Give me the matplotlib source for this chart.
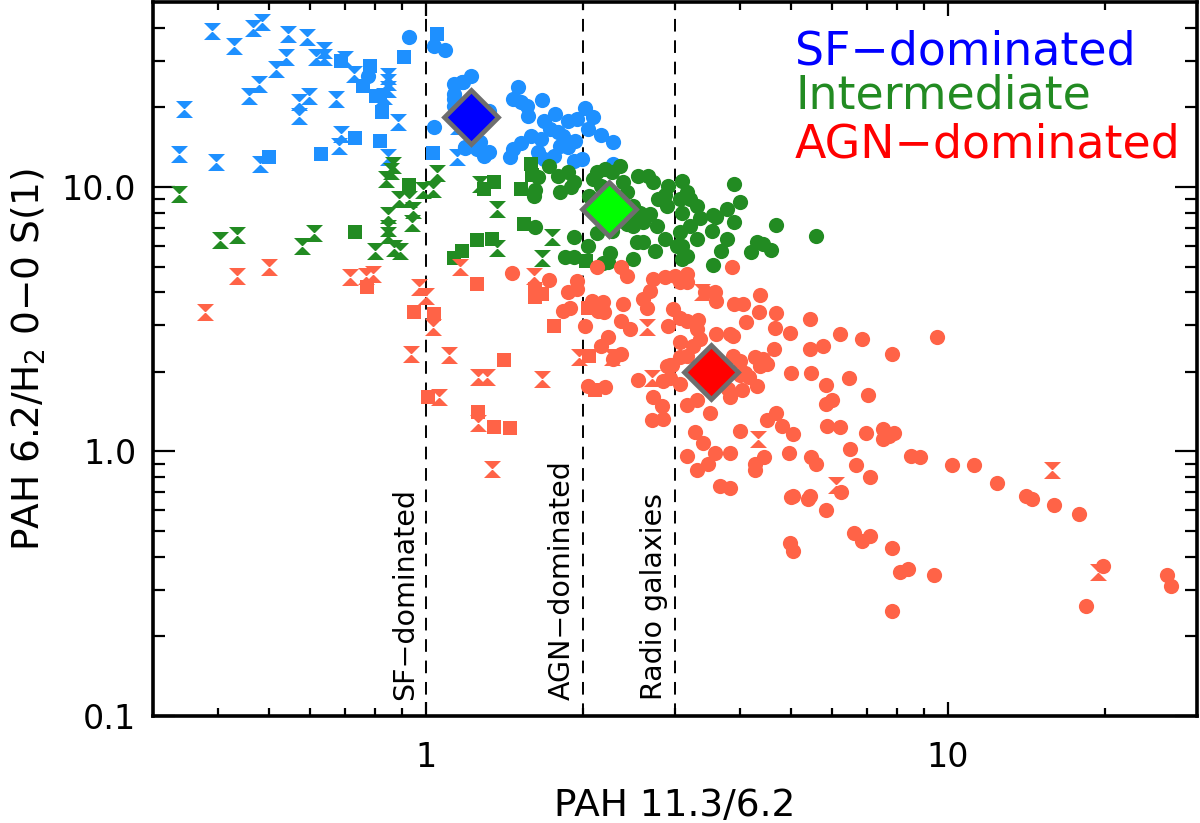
import matplotlib
matplotlib.use('Agg')
import matplotlib.pyplot as plt
from matplotlib.path import Path
from matplotlib.ticker import FixedLocator, NullFormatter, FixedFormatter

# ---------------- data ----------------
# SF-dominated (light blue)
sf_hg_x = [0.389, 0.466, 0.486, 0.428, 0.545, 0.593, 0.540, 0.517, 0.617, 0.639, 0.639, 0.70, 0.478, 0.459,
           0.570, 0.598, 0.572, 0.673, 0.344, 0.336, 0.396, 0.482, 0.682, 0.688, 0.729, 0.846, 0.846, 0.846,
           0.83, 0.885, 0.846, 1.146, 1.15]
sf_hg_y = [39, 40, 42, 34, 38, 37, 31, 28, 31, 33, 31, 30.5, 24.5, 22,
           21, 22, 18.6, 21.4, 19.7, 13.3, 12.4, 12.2, 14.3, 15.9, 26.8, 26.3, 25, 23.5,
           22, 17.6, 13, 13, 17]
sf_sq_x = [1.05, 0.908, 0.782, 0.688, 0.758, 0.803, 0.815, 0.824, 0.732, 0.817, 0.630, 0.50, 1.03]
sf_sq_y = [37.7, 31, 28.7, 30, 24, 22, 22, 19.2, 15.3, 14.9, 13.3, 13, 13.4]
sf_ci_x = [0.93, 1.036, 1.09, 1.036, 0.775, 1.22, 1.17, 1.13, 1.18, 1.13, 1.13, 1.13, 1.32, 1.19, 1.25, 1.29,
           1.32, 1.27, 1.19, 1.5, 1.47, 1.52, 1.56, 1.57, 1.67, 1.68, 1.77, 1.73, 1.66, 1.59, 1.52, 1.47,
           1.45, 1.87, 1.95, 2.02, 2.09, 2.04, 2.16, 2.28, 1.79, 1.83, 1.81, 1.87, 1.93, 1.99, 1.92, 1.76,
           2.28, 1.68, 1.64]
sf_ci_y = [37, 34, 33, 16.9, 26.3, 26.3, 25, 24.5, 25, 21.5, 22.5, 20.3, 19.4, 14.2, 13.9, 13.1,
           13.6, 14.8, 14.0, 23.9, 21.5, 21, 20.3, 18.6, 21.3, 17.8, 18.8, 16.6, 15.2, 15.6, 14.6, 13.9,
           13, 17.8, 18.1, 19.8, 18.4, 16.6, 15.7, 14.8, 16.1, 15.6, 14.3, 14.2, 14.9, 12.8, 12.5, 13.1,
           12.2, 12.8, 13.6]

# Intermediate (green)
int_hg_x = [0.336, 0.404, 0.434, 0.58, 0.61, 0.80, 0.846, 0.846, 0.846, 0.838, 0.858, 0.865, 0.87, 0.89,
            0.888, 0.928, 0.945, 0.94, 0.987, 1.03, 1.05, 1.27, 1.37, 1.37, 1.74, 1.67]
int_hg_y = [9.4, 6.3, 6.6, 6.0, 6.7, 5.72, 7.8, 7.0, 6.6, 10.7, 11.5, 12.1, 5.9, 5.7,
            9.0, 9.0, 8.2, 7.3, 9.7, 9.8, 11.3, 10.3, 8.25, 5.9, 6.47, 5.38]
int_sq_x = [0.73, 0.928, 1.13, 1.17, 1.25, 1.34, 1.29, 1.35, 1.52, 1.59, 1.60, 1.54, 2.03]
int_sq_y = [6.75, 10.2, 5.4, 5.7, 6.3, 6.35, 9.8, 10.4, 9.8, 12.2, 11.1, 7.24, 5.25]
int_ci_x = [1.72, 1.64, 1.62, 1.61, 1.62, 1.81, 1.79, 1.87, 1.92, 1.90, 1.92, 1.85, 1.92, 2.04, 2.05,
            2.13, 2.2, 2.27, 2.35, 2.09, 2.16, 2.43, 2.39, 2.55, 2.66, 2.72,
            2.49, 2.57, 2.46, 2.36, 2.43, 2.49, 2.6, 2.69, 2.77, 2.78, 2.9, 2.91, 2.87,
            2.54, 2.6, 2.75, 2.87, 3.03, 2.49, 2.25, 2.18, 2.23, 2.13, 2.2, 2.27,
            3.1, 3.16, 3.07, 3.2, 3.1, 3.2, 3.3, 3.35, 3.3, 3.1, 3.07, 3.16, 3.1,
            3.54, 3.6, 3.53, 3.77, 3.9, 3.9, 4.0, 3.77, 3.68, 3.54, 4.2, 4.3, 4.42, 4.58, 4.69, 5.6]
int_ci_y = [12.0, 10.9, 9.7, 9.2, 7.05, 9.6, 11.0, 11.4, 10.4, 10.0, 6.47, 5.43, 5.43, 5.98, 9.2,
            11.4, 11.7, 11.4, 12.0, 10.7, 10.1, 9.6, 10.4, 11.0, 11.0, 10.4,
            8.5, 8.0, 7.6, 7.8, 7.24, 7.1, 7.4, 7.9, 7.1, 9.0, 8.5, 10.1, 9.3,
            6.18, 6.18, 5.73, 6.35, 5.98, 5.33, 5.62, 5.15, 5.2, 6.7, 7.05, 6.8,
            10.5, 9.6, 9.0, 9.0, 8.0, 7.1, 8.5, 7.6, 6.35, 6.0, 6.75, 5.48, 5.33,
            7.8, 7.7, 6.8, 8.25, 7.36, 10.3, 8.8, 6.35, 5.73, 5.07, 5.66, 6.2, 6.1, 5.77, 7.2, 6.5]

# AGN-dominated (red)
agn_hg_x = [0.377, 0.434, 0.50, 0.716, 0.768, 0.792, 0.97, 1.0, 1.03, 0.936, 1.106, 1.16, 1.26, 1.31,
            1.06, 1.26, 1.34, 1.61, 1.67, 1.96, 2.27, 2.71, 2.65, 3.38, 4.32, 6.1, 15.8, 19.4]
agn_hg_y = [3.36, 4.6, 4.98, 4.56, 4.6, 4.7, 4.18, 3.87, 2.95, 2.33, 2.32, 5.0, 1.92, 1.91,
            1.6, 1.28, 0.86, 4.6, 1.88, 2.27, 2.27, 1.89, 2.95, 4.0, 1.11, 0.75, 0.85, 0.35]
agn_sq_x = [0.772, 0.95, 1.036, 1.25, 1.01, 1.26, 1.35, 1.45, 1.62, 1.67, 1.62, 1.76, 1.41, 2.04, 2.05, 2.11]
agn_sq_y = [4.18, 3.36, 3.3, 4.29, 1.6, 1.41, 1.24, 1.23, 4.1, 3.93, 3.83, 2.97, 2.22, 3.5, 2.3, 1.7]
agn_ci_x = [1.46, 1.72, 1.83, 1.89, 1.87, 1.95, 1.95, 2.02, 2.08, 2.18, 2.19, 2.14,
            2.13, 2.36, 2.43, 2.39, 2.36, 2.46, 2.23, 2.16, 2.36, 2.28,
            2.04, 2.2, 2.55, 2.84, 2.72, 2.83, 2.71, 2.84,
            2.6, 2.65, 2.72, 2.87, 3.0, 3.16, 2.69, 2.91, 2.97, 3.07, 3.17,
            2.93, 2.9, 2.93, 3.07, 3.07, 3.17, 3.32, 3.3,
            3.58, 3.6, 3.42, 3.9, 4.05, 4.36, 4.34, 4.69, 4.11, 4.67, 4.99, 5.45, 6.2, 6.83, 9.54, 3.85,
            3.07, 3.25, 3.35, 3.6, 3.82, 3.87, 2.96, 3.07, 3.16,
            3.16, 3.3, 3.5, 3.82, 3.79, 4.04, 4.08, 4.16, 4.3, 4.0, 4.0,
            3.87, 4.0, 4.27, 4.42, 4.5, 4.36, 4.65, 5.43, 5.0, 5.47, 5.77, 7.8,
            4.5, 4.69, 4.82, 5.04,
            3.16, 3.3, 3.47, 3.58, 3.82, 3.28, 3.4, 3.66, 3.82, 4.27, 4.27, 4.45, 4.97, 5.47, 5.6, 5.04, 5.43,
            5.85, 6.45, 7.03, 5.83, 6.0, 5.87, 6.2, 6.48, 6.67, 6.97, 7.5, 7.5, 7.89, 7.7, 7.1, 8.5, 8.83,
            10.2, 11.2, 12.4, 14.1, 14.5, 16.0, 17.8,
            6.25, 5.0, 5.4, 5.85, 6.6, 6.85, 7.1, 7.8, 8.1, 8.4, 9.4, 4.99, 5.04, 7.8, 19.8, 18.4, 26.3, 26.8]
agn_ci_y = [4.72, 4.45, 3.4, 3.5, 4.0, 4.1, 4.4, 2.97, 3.7, 3.67, 3.36, 3.4,
            4.97, 5.0, 4.6, 3.6, 3.1, 2.9, 2.7, 2.5, 2.33, 2.23,
            1.77, 1.75, 1.87, 1.85, 1.6, 1.48, 1.32, 1.33,
            3.76, 3.5, 4.47, 4.56, 4.6, 4.7, 4.03, 2.97, 3.45, 4.36, 4.36,
            1.9, 2.1, 2.12, 1.8, 3.2, 3.1, 3.15, 2.9,
            4.0, 3.7, 4.0, 3.6, 3.6, 3.9, 3.36, 3.33, 3.08, 2.92, 2.8, 3.18, 2.77, 2.65, 2.7, 5.0,
            2.59, 2.5, 2.65, 2.77, 2.77, 2.72, 2.12, 2.27, 2.3,
            1.5, 1.57, 1.4, 1.6, 1.72, 1.7, 1.98, 1.92, 1.77, 1.95, 1.2,
            2.3, 2.2, 2.27, 2.23, 2.15, 2.1, 2.45, 2.45, 1.98, 1.98, 2.5, 2.33,
            1.32, 1.4, 1.25, 1.16,
            0.96, 0.85, 0.9, 0.99, 0.99, 1.18, 1.08, 0.74, 0.73, 0.85, 0.9, 0.95, 0.99, 0.95, 0.9, 0.68, 0.68,
            1.78, 1.89, 1.63, 1.51, 1.57, 1.25, 1.24, 1.02, 0.89, 1.17, 1.22, 1.11, 1.17, 1.14, 0.8, 0.96, 0.95,
            0.89, 0.89, 0.76, 0.68, 0.66, 0.63, 0.58,
            0.7, 0.67, 0.66, 0.6, 0.49, 0.46, 0.48, 0.43, 0.35, 0.36, 0.34, 0.45, 0.42, 0.25, 0.37, 0.26, 0.34, 0.31]

# class means (big diamonds)
mean_x = [1.22, 2.24, 3.51]
mean_y = [18.4, 8.26, 1.99]

# vertical reference lines
vline_x = [1.0, 2.0, 3.0]
vline_labels = ['SF\u2212dominated', 'AGN\u2212dominated', 'Radio galaxies']

legend_labels = ['SF\u2212dominated', 'Intermediate', 'AGN\u2212dominated']

xtick_major = [1, 10]
xtick_labels = ['1', '10']
xtick_minor = [0.4, 0.5, 0.6, 0.7, 0.8, 0.9, 2, 3, 4, 5, 6, 7, 8, 9, 20]
ytick_major = [0.1, 1, 10]
ytick_labels = ['0.1', '1.0', '10.0']
ytick_minor = [0.2, 0.3, 0.4, 0.5, 0.6, 0.7, 0.8, 0.9, 2, 3, 4, 5, 6, 7, 8, 9, 20, 30, 40]

# ---------------- style ----------------
c_sf, c_int, c_agn = '#1E90FF', '#228B22', '#FF6347'
c_mean = ['#0000FF', '#00FF00', '#FF0000']
c_leg = ['#0000FF', '#228B22', '#FF0000']

hourglass = Path([(-1, 1), (1, 1), (-1, -1), (1, -1), (-1, 1)],
                 [Path.MOVETO, Path.LINETO, Path.LINETO, Path.LINETO, Path.CLOSEPOLY])

plt.rcParams['font.family'] = ['DejaVu Sans']
fig = plt.figure(figsize=(12, 8.23), dpi=100)
ax = fig.add_axes([153 / 1200, 107 / 823, 1044 / 1200, 714 / 823])
ax.set_xscale('log')
ax.set_yscale('log')
ax.set_xlim(0.3, 30)
ax.set_ylim(0.1, 50)

s_c, s_s, s_h = 120, 95, 150
for (cx, cy, sx, sy, hx, hy, col) in [
        (sf_ci_x, sf_ci_y, sf_sq_x, sf_sq_y, sf_hg_x, sf_hg_y, c_sf),
        (int_ci_x, int_ci_y, int_sq_x, int_sq_y, int_hg_x, int_hg_y, c_int),
        (agn_ci_x, agn_ci_y, agn_sq_x, agn_sq_y, agn_hg_x, agn_hg_y, c_agn)]:
    ax.scatter(cx, cy, s=s_c, marker='o', color=col, linewidths=0, zorder=2)
    ax.scatter(sx, sy, s=s_s, marker='s', color=col, linewidths=0, zorder=2)
    ax.scatter(hx, hy, s=s_h, marker=hourglass, color=col, linewidths=0, zorder=2)

for mx, my, mc in zip(mean_x, mean_y, c_mean):
    ax.plot([mx], [my], marker='D', markersize=27, markerfacecolor=mc,
            markeredgecolor='#6E6E6E', markeredgewidth=3.4, zorder=5)

for vx, lab in zip(vline_x, vline_labels):
    ax.axvline(vx, color='black', lw=1.4, ls=(0, (6.5, 4.5)), zorder=1)
    ax.annotate(lab, xy=(vx, 0.115), xytext=(-15, 0), textcoords='offset points',
                rotation=90, ha='center', va='bottom', fontsize=20.5, color='black')

for i, (lab, col) in enumerate(zip(legend_labels, c_leg)):
    ax.text(0.615, [0.912, 0.851, 0.782][i], lab, transform=ax.transAxes, color=col,
            fontsize=33, ha='left', va='baseline')

ax.xaxis.set_major_locator(FixedLocator(xtick_major))
ax.xaxis.set_major_formatter(FixedFormatter(xtick_labels))
ax.xaxis.set_minor_locator(FixedLocator(xtick_minor))
ax.xaxis.set_minor_formatter(NullFormatter())
ax.yaxis.set_major_locator(FixedLocator(ytick_major))
ax.yaxis.set_major_formatter(FixedFormatter(ytick_labels))
ax.yaxis.set_minor_locator(FixedLocator(ytick_minor))
ax.yaxis.set_minor_formatter(NullFormatter())

ax.tick_params(axis='both', which='both', direction='in', top=True, right=True, width=1.6, labelsize=24)
ax.tick_params(axis='x', which='major', length=10, pad=18)
ax.tick_params(axis='x', which='minor', length=5.5)
ax.tick_params(axis='y', which='major', length=16, pad=12)
ax.tick_params(axis='y', which='minor', length=8.5)
for sp in ax.spines.values():
    sp.set_linewidth(2.6)

ax.set_xlabel('PAH 11.3/6.2', fontsize=27, labelpad=10)
ax.set_ylabel('PAH 6.2/H$_2$ 0\u22120 S(1)', fontsize=27, labelpad=10)

fig.savefig('out.png', dpi=100)
